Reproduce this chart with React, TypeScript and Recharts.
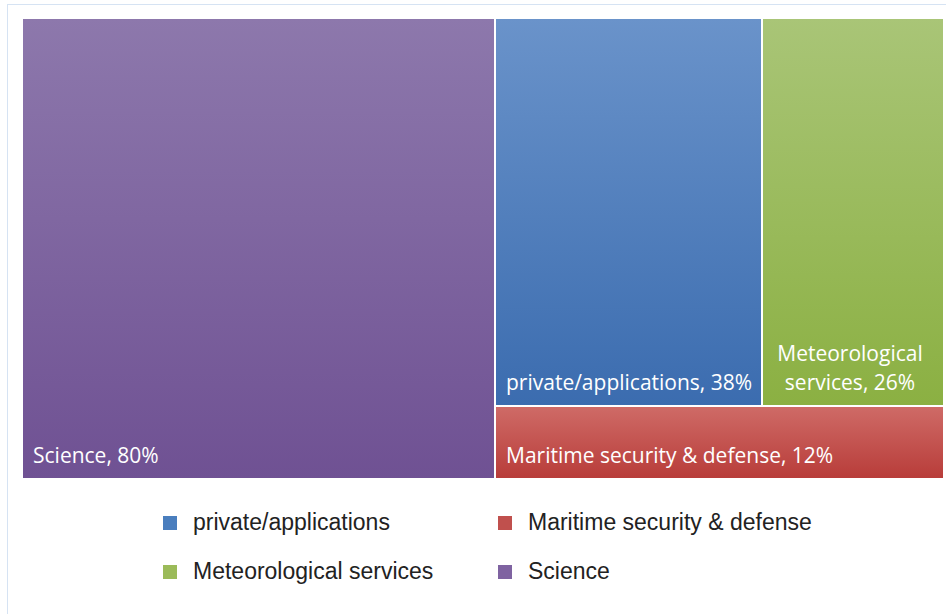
import { Treemap } from "recharts";

const categories = ["Science", "private/applications", "Meteorological services", "Maritime security & defense"];
const shares = [80, 38, 26, 12];
const legendOrder = ["private/applications", "Maritime security & defense", "Meteorological services", "Science"];

const GRADIENTS: Record<string, [string, string]> = {
  Science: ["#8d78ac", "#6f5193"],
  "private/applications": ["#6a93ca", "#3b6caf"],
  "Meteorological services": ["#a9c577", "#8bb042"],
  "Maritime security & defense": ["#cf6b67", "#b83c39"],
};

const SWATCH: Record<string, string> = {
  Science: "#7f63a1",
  "private/applications": "#4a7ebe",
  "Meteorological services": "#9bbb59",
  "Maritime security & defense": "#c0504d",
};

const data = categories.map((name, i) => ({ name, size: shares[i] }));

const LABEL_FONT = 21;
const LINE_H = 29;

const wrap = (text: string, maxWidth: number) => {
  const words = text.split(" ");
  const lines: string[] = [];
  let cur = "";
  words.forEach((w) => {
    const next = cur ? `${cur} ${w}` : w;
    if (next.length * LABEL_FONT * 0.45 > maxWidth && cur) {
      lines.push(cur);
      cur = w;
    } else {
      cur = next;
    }
  });
  if (cur) lines.push(cur);
  return lines;
};

const Cell = (props: any) => {
  const { x, y, width, height, name, depth, value } = props;
  if (depth !== 1) return null;
  const id = `grad-${categories.indexOf(name)}`;
  const [top, bottom] = GRADIENTS[name];
  const label = `${name}, ${value}%`;
  const lines = wrap(label, width - 20);
  const multi = lines.length > 1;
  const baseY = y + height - 16;
  return (
    <g>
      <defs>
        <linearGradient id={id} x1="0" y1="0" x2="0" y2="1">
          <stop offset="0%" stopColor={top} />
          <stop offset="100%" stopColor={bottom} />
        </linearGradient>
      </defs>
      <rect x={x} y={y} width={width} height={height} fill={`url(#${id})`} stroke="#ffffff" strokeWidth={2} />
      {lines.map((line, i) => (
        <text
          key={line}
          x={multi ? x + width / 2 - 3 : x + 11}
          y={baseY - (lines.length - 1 - i) * LINE_H}
          textAnchor={multi ? "middle" : "start"}
          fill="#ffffff"
          fontSize={LABEL_FONT}
          fontFamily="'Open Sans', sans-serif"
        >
          {line}
        </text>
      ))}
    </g>
  );
};

const App = () => {
  return (
    <div
      style={{
        position: "absolute",
        left: 7,
        top: 4,
        width: 945,
        height: 620,
        borderLeft: "1px solid #d6e3f3",
        borderTop: "1px solid #d6e3f3",
        background: "#fff",
      }}
    >
      <div style={{ position: "absolute", left: 14, top: 13 }}>
        <Treemap
          width={922}
          height={461}
          data={data}
          dataKey="size"
          nameKey="name"
          content={<Cell />}
          isAnimationActive={false}
        />
      </div>
      <div
        style={{
          position: "absolute",
          left: 155,
          top: 505,
          display: "grid",
          gridTemplateColumns: "335px 340px",
          rowGap: 24,
          fontFamily: "'Liberation Sans', Arial, sans-serif",
          fontSize: 23,
          color: "#222",
        }}
      >
        {legendOrder.map((name) => (
          <div key={name} style={{ display: "flex", alignItems: "center", height: 25 }}>
            <span
              style={{
                width: 14,
                height: 14,
                background: SWATCH[name],
                display: "inline-block",
                marginRight: 16,
                flexShrink: 0,
              }}
            />
            {name}
          </div>
        ))}
      </div>
    </div>
  );
};

export default App;
